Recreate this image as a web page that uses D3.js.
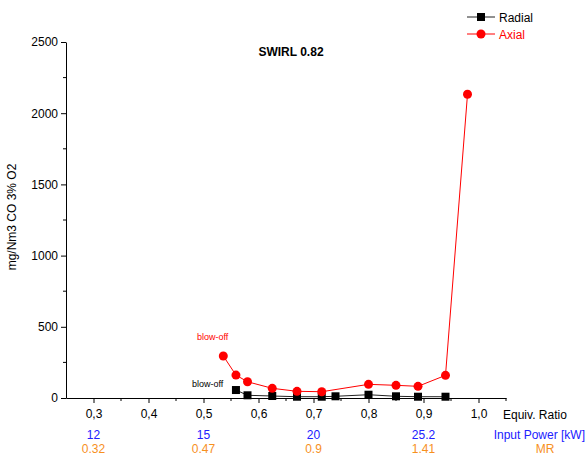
<!DOCTYPE html>
<html><head><meta charset="utf-8">
<script src="https://cdn.jsdelivr.net/npm/d3@7"></script>
<style>body{margin:0;background:#fff}svg{display:block;font-family:"Liberation Sans",Arial,sans-serif}</style>
</head><body>
<svg id="c" width="585" height="456"></svg>
<script>
const radialX = [0.559, 0.58, 0.625, 0.67, 0.715, 0.74, 0.80, 0.85, 0.89, 0.94];
const radialY = [56, 19, 14, 9, 9, 12, 23, 12, 9, 9];
const axialX = [0.536, 0.559, 0.58, 0.625, 0.67, 0.715, 0.80, 0.85, 0.89, 0.94, 0.98];
const axialY = [295, 161, 114, 68, 47, 44, 96, 89, 82, 159, 2133];
const xTicks = [0.3, 0.4, 0.5, 0.6, 0.7, 0.8, 0.9, 1.0];
const xMinor = [0.35, 0.45, 0.55, 0.65, 0.75, 0.85, 0.95, 1.05];
const yTicks = [0, 500, 1000, 1500, 2000, 2500];
const yMinor = [250, 750, 1250, 1750, 2250];
const powerPos = [0.3, 0.5, 0.7, 0.9];
const powerLabels = ["12", "15", "20", "25.2"];
const mrLabels = ["0.32", "0.47", "0.9", "1.41"];

const svg = d3.select("#c");
const x = d3.scaleLinear().domain([0.25, 1.05]).range([66, 506]);
const y = d3.scaleLinear().domain([0, 2500]).range([398, 42]);

// axes
const gx = svg.append("g").attr("transform", "translate(0,398)")
  .call(d3.axisBottom(x).tickValues(xTicks).tickSize(5).tickSizeOuter(0)
    .tickFormat(d => d3.format(".1f")(d).replace(".", ",")));
gx.append("g").selectAll("line").data(xMinor).join("line")
  .attr("x1", d => x(d)).attr("x2", d => x(d)).attr("y1", 0).attr("y2", 3).attr("stroke", "#000");
gx.selectAll(".tick text").attr("font-size", 12).attr("dy", "0.71em").attr("y", 11)
  .attr("fill", "#000").attr("font-family", "Liberation Sans, Arial, sans-serif");

const gy = svg.append("g").attr("transform", "translate(66,0)")
  .call(d3.axisLeft(y).tickValues(yTicks).tickSize(5).tickSizeOuter(0).tickFormat(d3.format("d")));
gy.append("g").selectAll("line").data(yMinor).join("line")
  .attr("x1", 0).attr("x2", -3).attr("y1", d => y(d)).attr("y2", d => y(d)).attr("stroke", "#000");
gy.selectAll(".tick text").attr("font-size", 12).attr("x", -8)
  .attr("fill", "#000").attr("font-family", "Liberation Sans, Arial, sans-serif");
svg.selectAll(".domain, .tick line").attr("stroke", "#000");

// axis titles
svg.append("text").attr("x", 503).attr("y", 419).attr("font-size", 12).text("Equiv. Ratio");
svg.append("text").attr("transform", "translate(16,217) rotate(-90)").attr("text-anchor", "middle")
  .attr("font-size", 12).text("mg/Nm3 CO 3% O2");

// secondary rows
svg.append("g").selectAll("text").data(powerLabels).join("text")
  .attr("x", (d, i) => x(powerPos[i])).attr("y", 439).attr("text-anchor", "middle")
  .attr("font-size", 12).attr("fill", "#2020ff").text(d => d);
svg.append("text").attr("x", 585).attr("y", 439).attr("text-anchor", "end").attr("font-size", 12)
  .attr("fill", "#2020ff").text("Input Power [kW]");
svg.append("g").selectAll("text").data(mrLabels).join("text")
  .attr("x", (d, i) => x(powerPos[i])).attr("y", 453).attr("text-anchor", "middle")
  .attr("font-size", 12).attr("fill", "#f7901e").text(d => d);
svg.append("text").attr("x", 545).attr("y", 453).attr("text-anchor", "middle").attr("font-size", 12)
  .attr("fill", "#f7901e").text("MR");

// title
svg.append("text").attr("x", 291).attr("y", 56).attr("text-anchor", "middle").attr("font-size", 12)
  .attr("font-weight", "bold").text("SWIRL 0.82");

// lines
const line = d3.line().x(d => x(d[0])).y(d => y(d[1]));
const radial = radialX.map((v, i) => [v, radialY[i]]);
const axial = axialX.map((v, i) => [v, axialY[i]]);
svg.append("path").datum(radial).attr("d", line).attr("fill", "none").attr("stroke", "#222").attr("stroke-width", 1);
svg.append("path").datum(axial).attr("d", line).attr("fill", "none").attr("stroke", "#ff0000").attr("stroke-width", 1);
svg.append("g").selectAll("rect").data(radial).join("rect")
  .attr("x", d => x(d[0]) - 4).attr("y", d => y(d[1]) - 4).attr("width", 8).attr("height", 8).attr("fill", "#000");
svg.append("g").selectAll("circle").data(axial).join("circle")
  .attr("cx", d => x(d[0])).attr("cy", d => y(d[1])).attr("r", 4.5).attr("fill", "#ff0000");

// annotations
svg.append("text").attr("x", 197).attr("y", 340).attr("font-size", 9).attr("fill", "#ff0000").text("blow-off");
svg.append("text").attr("x", 192).attr("y", 387).attr("font-size", 9).attr("fill", "#000").text("blow-off");

// legend
const leg = [["Radial", "#222", "#000", "sq", "#000"], ["Axial", "#ff0000", "#ff0000", "ci", "#ff0000"]];
leg.forEach((l, i) => {
  const ly = 17 + i * 17;
  svg.append("line").attr("x1", 467).attr("x2", 495).attr("y1", ly).attr("y2", ly).attr("stroke", l[1]);
  if (l[3] === "sq") svg.append("rect").attr("x", 477).attr("y", ly - 4).attr("width", 8).attr("height", 8).attr("fill", l[2]);
  else svg.append("circle").attr("cx", 481).attr("cy", ly).attr("r", 4.5).attr("fill", l[2]);
  svg.append("text").attr("x", 499).attr("y", ly + 4.5).attr("font-size", 12).attr("fill", l[4]).text(l[0]);
});
</script>
</body></html>
